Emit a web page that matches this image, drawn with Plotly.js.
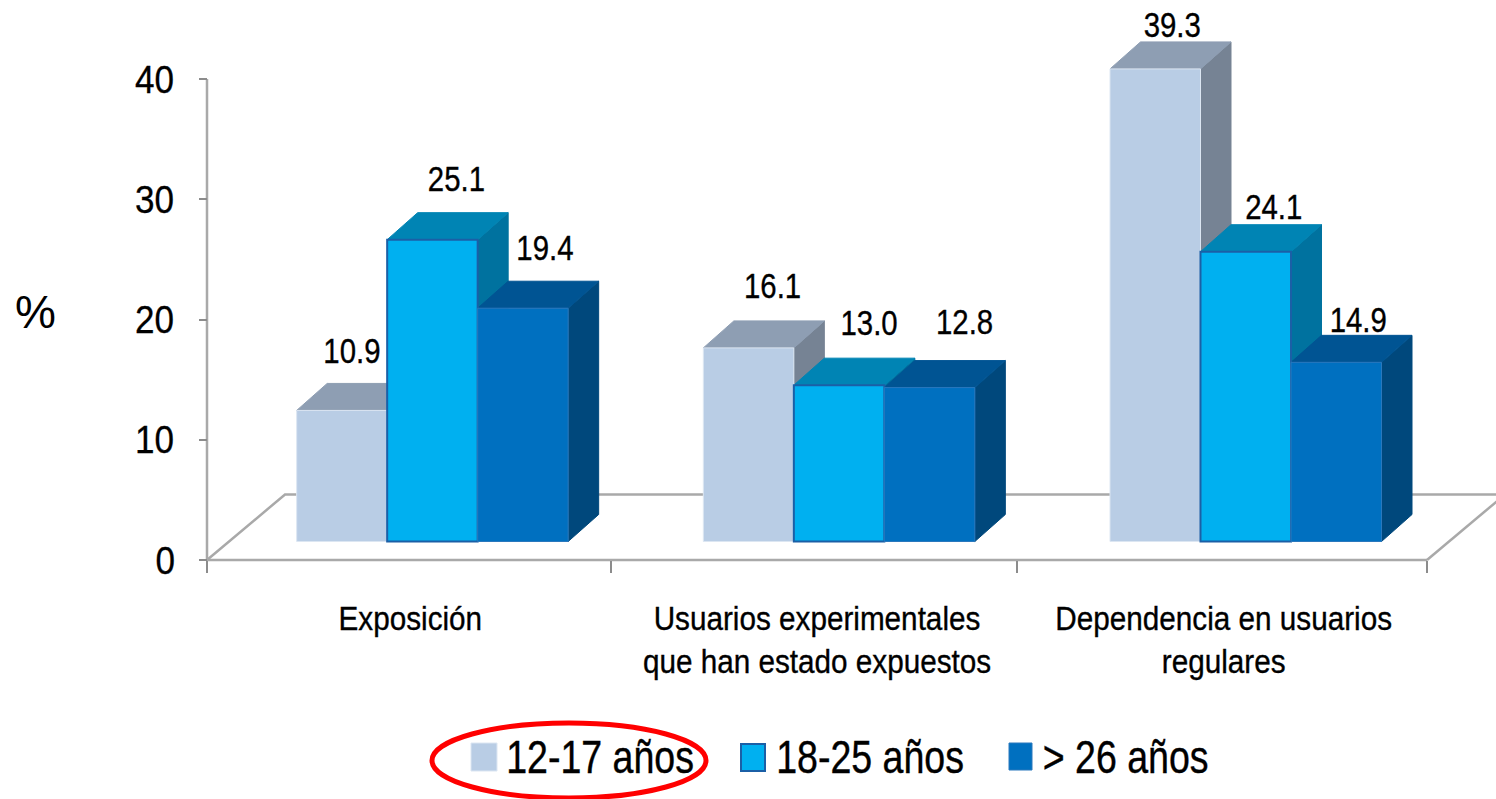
<!DOCTYPE html>
<html><head><meta charset="utf-8">
<script src="https://cdn.plot.ly/plotly-3.0.1.min.js"></script>
<style>html,body{margin:0;padding:0;background:#fff;overflow:hidden}#c{width:1496px;height:799px}</style>
</head><body><div id="c"></div>
<script>
const categories = ["Exposición<br> ", "Usuarios experimentales<br>que han estado expuestos", "Dependencia en usuarios<br>regulares"];
const seriesNames = ["12-17 años", "18-25 años", "> 26 años"];
const teens = [10.9, 16.1, 39.3];
const youngAdults = [25.1, 13.0, 24.1];
const adults = [19.4, 12.8, 14.9];
const seriesValues = [teens, youngAdults, adults];
const yTicks = [0, 10, 20, 30, 40];

const W = 1496, H = 799, L = 207, R = 1427, T = 79, B = 560;
const FONT = '"Liberation Sans",sans-serif';
const pxX = (R - L) / 3, pxY = (B - T) / 40;
const xRange = [-L / pxX, (W - L) / pxX], yRange = [(B - H) / pxY, B / pxY];
const barW = 90.5 / pxX, groupOff = 0.2205, base = 18.5 / pxY;
const dx = 30.5 / pxX, dy = 27 / pxY;
const floorDx = 78 / pxX, floorDy = 65.5 / pxY;

const front = ["#b9cde5", "#00b0f0", "#0070c0"];
const edge = ["#dce6f2", "#1b5fa6", "#2a78bd"];
const topC = ["#8e9eb3", "#0084b4", "#005493"];
const sideC = ["#768394", "#00729f", "#00487c"];
const labelDx = [[10,24,22],[24,30,35],[17,28,22]];   // by group, bar: px from bar centre
const labelDy = [[29,30,30],[32,32,35],[14,14,12]];   // px above rear top edge
const grey = "#a9a9a9";

const lineTrace = (x,y,c,w) => ({type:"scatter",mode:"lines",x,y,xaxis:"x",yaxis:"y",
  line:{color:c,width:w},hoverinfo:"skip",showlegend:false});
const traces = [];
// floor and axis lines
traces.push(lineTrace([0,floorDx,xRange[1]],[0,floorDy,floorDy],grey,2.5));
traces.push(lineTrace([3,3+floorDx],[0,floorDy],grey,2.5));
traces.push(lineTrace([0,3],[0,0],grey,2.5));
traces.push(lineTrace([0,0],[0,40],grey,2.5));

// side and top faces, left to right
categories.forEach((c,g)=>{
  seriesValues.forEach((vals,s)=>{
    const x0 = g + groupOff + s*barW, x1 = x0 + barW, y1 = base + vals[g];
    traces.push({type:"scatter",mode:"lines",fill:"toself",fillcolor:sideC[s],line:{width:1,color:sideC[s]},
      x:[x1,x1+dx,x1+dx,x1,x1],y:[base,base+dy,y1+dy,y1,base],xaxis:"x",yaxis:"y",
      hoverinfo:"skip",showlegend:false});
    traces.push({type:"scatter",mode:"lines",fill:"toself",fillcolor:topC[s],line:{width:1,color:topC[s]},
      x:[x0,x0+dx,x1+dx,x1,x0],y:[y1,y1+dy,y1+dy,y1,y1],xaxis:"x",yaxis:"y",
      hoverinfo:"skip",showlegend:false});
  });
});

// front faces
seriesValues.forEach((vals,s)=>{
  traces.push({type:"bar",name:seriesNames[s],xaxis:"x2",yaxis:"y2",
    x:vals.map((v,g)=>g+groupOff+(s+0.5)*barW),y:vals,base:base,width:barW,
    marker:{color:front[s],line:{color:edge[s],width:s===1?2:1}},showlegend:false});
});

// value labels
seriesValues.forEach((vals,s)=>{
  traces.push({type:"scatter",mode:"text",xaxis:"x2",yaxis:"y2",
    x:vals.map((v,g)=>g+groupOff+(s+0.5)*barW+labelDx[g][s]/pxX),
    y:vals.map((v,g)=>base+v+dy+labelDy[g][s]/pxY),
    text:vals.map(v=>v.toFixed(1)),textposition:"middle center",
    textfont:{family:FONT,size:35,color:"#000"},hoverinfo:"skip",showlegend:false});
});

const px = v => v/W, py = v => 1 - v/H;
const swatches = [[471,497,743,771],[741,765,744,771],[1009,1032,743,770]];
const legendX = [600,870,1125];
const shapes = swatches.map((b,i)=>({type:"rect",xref:"paper",yref:"paper",x0:px(b[0]),x1:px(b[1]),y0:py(b[2]),y1:py(b[3]),
  fillcolor:front[i],line:{color:edge[i],width:i===1?2:1},layer:"above"}));
shapes.push({type:"circle",xref:"paper",yref:"paper",x0:px(432),x1:px(706),y0:py(723),y1:py(798),
  line:{color:"#ff0000",width:5},fillcolor:"rgba(0,0,0,0)",layer:"above"});

const annotations = seriesNames.map((n,i)=>({xref:"paper",yref:"paper",x:px(legendX[i]),y:py(757),xanchor:"center",yanchor:"middle",
  text:n,showarrow:false,font:{family:FONT,size:46,color:"#000"},borderpad:0}));
annotations.push({xref:"paper",yref:"paper",x:px(35),y:py(312),xanchor:"center",yanchor:"middle",text:"%",showarrow:false,
  font:{family:FONT,size:46,color:"#000"}});

const layout = {
  width:W,height:H,paper_bgcolor:"#fff",plot_bgcolor:"#fff",showlegend:false,bargap:0,barmode:"overlay",
  margin:{l:0,r:0,t:0,b:0,pad:0},
  xaxis:{type:"linear",range:xRange,anchor:"free",position:(H-B)/H,tickmode:"array",tickvals:[0.5,1.5,2.5],ticktext:categories,ticks:"",
    tickfont:{family:FONT,size:33,color:"#000"},showgrid:false,zeroline:false,showline:false,automargin:false,
    minor:{tickmode:"array",tickvals:[0,0.9934,1.9918,3],ticks:"outside",ticklen:12,tickwidth:2,tickcolor:"#8c8c8c",showgrid:false},
    ticklabelstandoff:36},
  yaxis:{range:yRange,anchor:"free",position:L/W,tickmode:"array",tickvals:yTicks,ticks:"outside",ticklen:8,tickwidth:2,tickcolor:"#8c8c8c",
    tickfont:{family:FONT,size:39,color:"#000"},showgrid:false,zeroline:false,showline:false,automargin:false,
    ticklabelstandoff:15},
  xaxis2:{overlaying:"x",range:xRange,visible:false,anchor:"y2"},
  yaxis2:{overlaying:"y",range:yRange,visible:false,anchor:"x2"},
  shapes,annotations
};

// The reference face is condensed and none is installed: narrow the real text nodes in place.
function narrow(sel, s, sw){
  document.querySelectorAll(sel).forEach(t=>{
    if(t.textContent.trim()==="%" ) return;
    const b = t.getBBox(), cx = b.x + b.width/2;
    const old = t.getAttribute("transform") || "";
    t.setAttribute("transform", old+" translate("+cx+",0) scale("+s+",1) translate("+(-cx)+",0)");
    t.style.stroke = "#000"; t.style.strokeWidth = sw+"px";
  });
}
Plotly.newPlot("c",traces,layout,{displayModeBar:false,staticPlot:true}).then(()=>{
  narrow(".xtick text",0.9,0.35);
  narrow(".ytick text",0.9,0.3);
  narrow(".textpoint text",0.84,0.35);
  narrow(".annotation-text",0.816,0.4);
});
</script></body></html>
